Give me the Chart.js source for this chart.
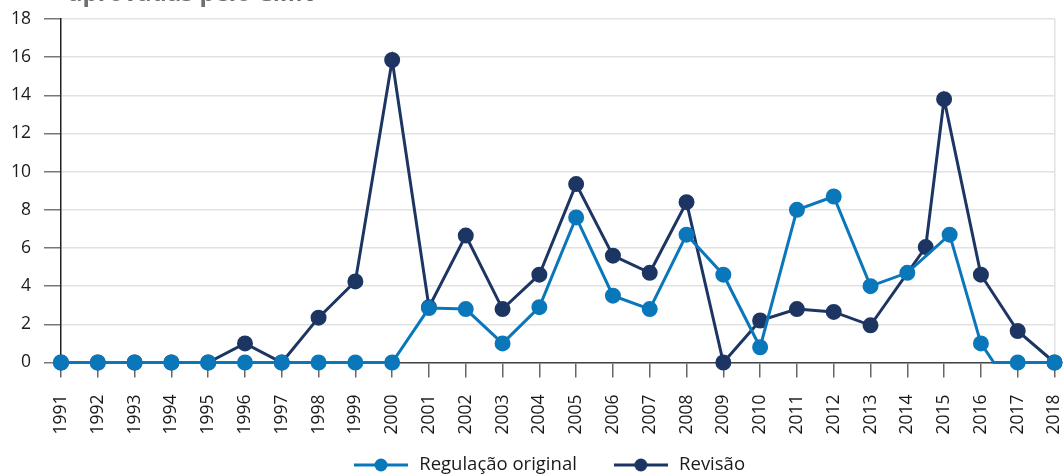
<!DOCTYPE html>
<html>
<head>
<meta charset="utf-8">
<script src="https://cdn.jsdelivr.net/npm/chart.js@4/dist/chart.umd.min.js"></script>
<style>
  body { margin: 0; background: #fff; }
  #caixa { position: relative; width: 1064px; height: 475px; overflow: hidden; }
  #titulo { position: absolute; left: 68px; top: -25px; font: bold 24px "Open Sans", sans-serif; color: #6d6e71; white-space: nowrap; }
</style>
</head>
<body>
<div id="caixa">
  <canvas id="grafico" width="1064" height="475"></canvas>
  <div id="titulo">aprovadas pelo CMN</div>
</div>
<script>
// anos do eixo x
const anos = [1991, 1992, 1993, 1994, 1995, 1996, 1997, 1998, 1999, 2000, 2001, 2002, 2003, 2004,
    2005, 2006, 2007, 2008, 2009, 2010, 2011, 2012, 2013, 2014, 2015, 2016, 2017, 2018];

// Regulação original
const xOriginal = [1991, 1992, 1993, 1994, 1995, 1996, 1997, 1998, 1999, 2000, 2001, 2002, 2003, 2004,
    2005, 2006, 2007, 2008, 2009, 2010, 2011, 2012, 2013, 2014, 2015.15, 2016, 2016.35, 2017, 2018];
const original = [0, 0, 0, 0, 0, 0, 0, 0, 0, 0, 2.85, 2.8, 1.0, 2.9,
    7.6, 3.5, 2.8, 6.7, 4.6, 0.8, 8.0, 8.7, 4.0, 4.7, 6.7, 1.0, 0, 0, 0];
const semMarcador = [2016.35];

// Revisão
const xRevisao = [1991, 1992, 1993, 1994, 1995, 1996, 1997, 1998, 1999, 2000, 2001, 2002, 2003, 2004,
    2005, 2006, 2007, 2008, 2009, 2010, 2011, 2012, 2013, 2014.5, 2015, 2016, 2017, 2018];
const revisao = [0, 0, 0, 0, 0, 1.0, 0, 2.35, 4.25, 15.85, 2.9, 6.65, 2.8, 4.6,
    9.35, 5.6, 4.7, 8.4, 0, 2.2, 2.8, 2.65, 1.95, 6.05, 13.8, 4.6, 1.65, 0];

const corOriginal = '#0a77ba';
const corRevisao = '#1d3562';

function pontos(xs, ys) {
    return xs.map((x, i) => ({ x: x, y: ys[i] }));
}

// simbolo da legenda: linha com bolinha
function simbolo(cor) {
    const c = document.createElement('canvas');
    c.width = 54;
    c.height = 16;
    const g = c.getContext('2d');
    g.strokeStyle = cor;
    g.lineWidth = 3;
    g.beginPath();
    g.moveTo(0, 8);
    g.lineTo(54, 8);
    g.stroke();
    g.fillStyle = cor;
    g.beginPath();
    g.arc(27, 8, 6.5, 0, Math.PI * 2);
    g.fill();
    return c;
}

// posiciona a legenda: um pouco para a direita, texto centrado em y=465
const deslocaLegenda = {
    id: 'deslocaLegenda',
    afterLayout(chart) {
        const lg = chart.legend;
        const op = lg.options.labels;
        const dy = 465 - (lg.top + op.padding + op.font.size / 2);
        lg.left += 20;
        lg.right += 20;
        lg.top += dy;
        lg.bottom += dy;
    }
};

const fonte = '"Open Sans", sans-serif';

new Chart(document.getElementById('grafico'), {
    type: 'line',
    data: {
        datasets: [{
            label: 'Regulação original',
            data: pontos(xOriginal, original),
            borderColor: corOriginal,
            backgroundColor: corOriginal,
            borderWidth: 3,
            pointRadius: ctx => semMarcador.includes(ctx.raw && ctx.raw.x) ? 0 : 6.5,
            pointHoverRadius: 6.5,
            clip: false,
            tension: 0
        },
        {
            label: 'Revisão',
            data: pontos(xRevisao, revisao),
            borderColor: corRevisao,
            backgroundColor: corRevisao,
            borderWidth: 3,
            pointRadius: 6.5,
            pointHoverRadius: 6.5,
            clip: false,
            tension: 0
        }]
    },
    options: {
        responsive: false,
        animation: false,
        layout: {
            padding: { top: 19, right: 7, left: 0, bottom: -26 }
        },
        elements: {
            point: { pointStyle: 'circle' }
        },
        scales: {
            x: {
                type: 'linear',
                min: 1991,
                max: 2018,
                afterBuildTicks: scale => {
                    scale.ticks = anos.map(a => ({ value: a }));
                },
                afterFit: scale => {
                    scale.height = 75;
                    scale.paddingLeft = 0;
                    scale.paddingRight = 0;
                },
                ticks: {
                    autoSkip: false,
                    maxRotation: 90,
                    minRotation: 90,
                    padding: 17,
                    color: '#1a1a1a',
                    font: { family: fonte, size: 17.5 },
                    callback: v => String(v)
                },
                grid: {
                    color: ctx => ctx.tick && ctx.tick.value === 2018 ? '#e2e2e2' : 'rgba(0,0,0,0)',
                    lineWidth: 1.5,
                    tickColor: '#666',
                    tickLength: 15
                },
                border: { color: '#444', width: 1.5 }
            },
            y: {
                min: 0,
                max: 18,
                afterFit: scale => {
                    scale.width = 61;
                    scale.paddingTop = 0;
                    scale.paddingBottom = 0;
                },
                ticks: {
                    stepSize: 2,
                    padding: 13,
                    color: '#1a1a1a',
                    font: { family: fonte, size: 17.5 }
                },
                grid: {
                    color: '#e2e2e2',
                    lineWidth: 1.5,
                    tickColor: '#777',
                    tickLength: 17
                },
                border: { color: '#222', width: 1.5 }
            }
        },
        plugins: {
            tooltip: { enabled: false },
            legend: {
                position: 'bottom',
                labels: {
                    usePointStyle: true,
                    pointStyleWidth: 58,
                    padding: 35,
                    color: '#1a1a1a',
                    font: { family: fonte, size: 18.5 },
                    generateLabels: chart => chart.data.datasets.map((ds, i) => ({
                        text: ds.label,
                        pointStyle: simbolo(ds.borderColor),
                        fontColor: '#1a1a1a',
                        lineWidth: 0,
                        strokeStyle: 'rgba(0,0,0,0)',
                        fillStyle: 'rgba(0,0,0,0)',
                        datasetIndex: i
                    }))
                }
            }
        }
    },
    plugins: [deslocaLegenda]
});
</script>
</body>
</html>
